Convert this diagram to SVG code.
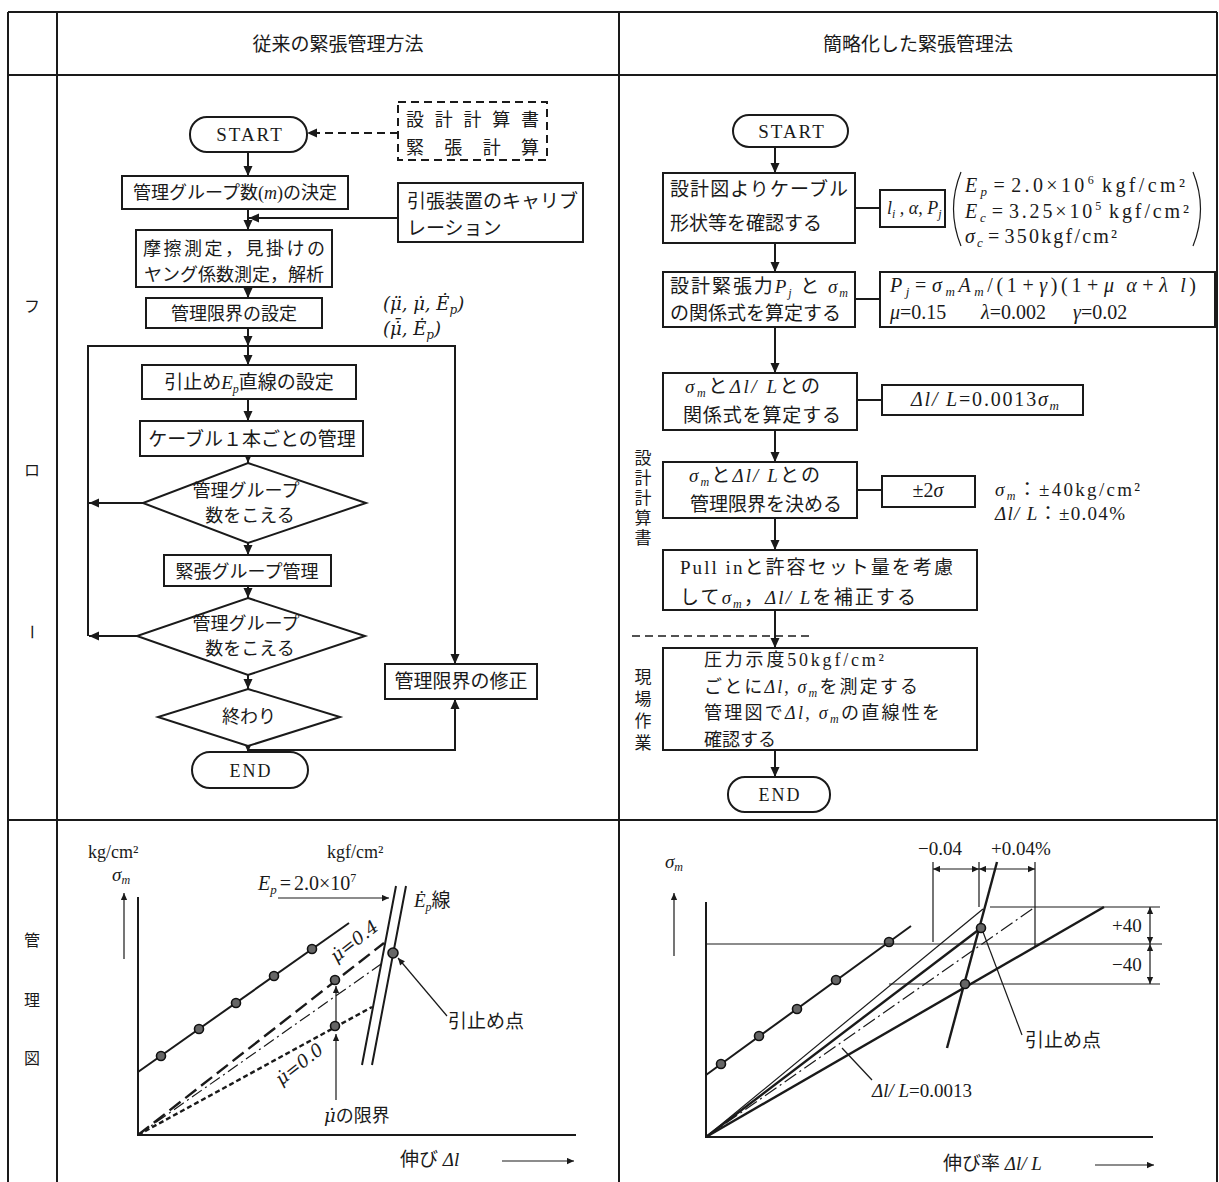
<svg xmlns="http://www.w3.org/2000/svg" width="1219" height="1182" viewBox="0 0 1219 1182">
<defs>
<style>
text{font-family:"Liberation Serif","DejaVu Serif","Noto Sans CJK JP",serif;fill:#1a1a1a}
.dv{font-family:"DejaVu Serif","Liberation Serif","Noto Sans CJK JP",serif}
.f18{font-size:18px}
.f19{font-size:19px}
.f20{font-size:20px}
.f17{font-size:17px}
.f16{font-size:16px}
.c{text-anchor:middle}
.i{font-style:italic}
.ls{letter-spacing:2px}
.b{fill:#fff;stroke:#1a1a1a;stroke-width:2}
.l{fill:none;stroke:#1a1a1a;stroke-width:2}
.th{fill:none;stroke:#1a1a1a;stroke-width:1.2}
.tk{fill:none;stroke:#1a1a1a;stroke-width:2.4}
.dash{stroke-dasharray:8 5}
.pt{fill:#666;stroke:#111;stroke-width:1.6}
</style>
<marker id="a" viewBox="0 0 10 10" refX="10" refY="5" markerWidth="10" markerHeight="10" markerUnits="userSpaceOnUse" orient="auto-start-reverse"><path d="M0,0.5L10,5L0,9.5z" fill="#1a1a1a"/></marker>
<marker id="sm" viewBox="0 0 10 10" refX="10" refY="5" markerWidth="8" markerHeight="7" markerUnits="userSpaceOnUse" orient="auto-start-reverse"><path d="M0,0.5L10,5L0,9.5z" fill="#1a1a1a"/></marker>
</defs>
<rect width="1219" height="1182" fill="#fff"/>

<g id="table" class="l">
<path d="M8,12H1217M8,75H1217M8,820H1217M8,12V1182M57,12V1182M619,12V1182M1217,12V1182"/>
</g>
<g id="headers">
<text class="f19 c" x="338" y="51">従来の緊張管理方法</text>
<text class="f19 c" x="918" y="51">簡略化した緊張管理法</text>
<text class="f16 c" x="32" y="312">フ</text>
<text class="f16 c" x="32" y="476">ロ</text>
<text class="f16 c" transform="rotate(90 32 632)" x="32" y="638">ー</text>
<text class="f16 c" x="32" y="946">管</text>
<text class="f16 c" x="32" y="1006">理</text>
<text class="f16 c" x="32" y="1064">図</text>
</g>

<!-- Left flowchart -->
<g id="connectors-left" class="l">
<path class="dash" d="M398,133H307" marker-end="url(#a)"/>
<path d="M248,152V176" marker-end="url(#a)"/>
<path d="M248,209V230" marker-end="url(#a)"/>
<path d="M398,218H249" marker-end="url(#a)"/>
<path d="M248,287V298" marker-end="url(#a)"/>
<path d="M248,328V346" marker-end="url(#a)"/>
<path d="M248,346V365" marker-end="url(#a)"/>
<path d="M88,636V346H455V664" marker-end="url(#a)"/>
<path d="M248,399V421" marker-end="url(#a)"/>
<path d="M248,456V463" marker-end="url(#a)"/>
<path d="M143,503H89" marker-end="url(#a)"/>
<path d="M248,543V555" marker-end="url(#a)"/>
<path d="M248,586V598" marker-end="url(#a)"/>
<path d="M137,636H89" marker-end="url(#a)"/>
<path d="M248,675V689" marker-end="url(#a)"/>
<path d="M248,746V752" marker-end="url(#a)"/>
<path d="M248,750H455V699" marker-end="url(#a)"/>
</g>
<g id="l-start"><rect class="b" x="190" y="117" width="117" height="35" rx="17"/><text class="f19 c ls" x="250" y="141">START</text></g>
<g id="l-design"><rect class="b dash" x="398" y="102" width="149" height="58"/>
<text class="f18" x="406" y="126" textLength="133" lengthAdjust="spacing">設計計算書</text>
<text class="f18" x="406" y="154" textLength="133" lengthAdjust="spacing">緊張計算</text></g>
<g id="l-group"><rect class="b" x="122" y="176" width="226" height="33"/><text class="f18 c" x="235" y="199">管理グループ数(<tspan class="i">m</tspan>)の決定</text></g>
<g id="l-calib"><rect class="b" x="398" y="183" width="185" height="59"/><text class="f19" x="407" y="208">引張装置のキャリブ</text><text class="f19" x="407" y="235">レーション</text></g>
<g id="l-friction"><rect class="b" x="136" y="230" width="196" height="57"/><text class="f18 c" x="234" y="255" textLength="182" lengthAdjust="spacing">摩擦測定，見掛けの</text><text class="f18 c" x="234" y="281">ヤング係数測定，解析</text></g>
<text class="f18 i dv" x="383" y="310">(μ̈, μ̇, Ė<tspan font-size="12" dy="4">p</tspan><tspan dy="-4">)</tspan></text>
<g id="l-limit"><rect class="b" x="146" y="298" width="176" height="30"/><text class="f18 c" x="234" y="320">管理限界の設定</text></g>
<text class="f18 i dv" x="383" y="335">(μ̇̄, Ė̄<tspan font-size="12" dy="4">p</tspan><tspan dy="-4">)</tspan></text>
<g id="l-ep"><rect class="b" x="142" y="365" width="214" height="34"/><text class="f19 c" x="249" y="389">引止め<tspan class="i">E</tspan><tspan class="i" font-size="12" dy="4">p</tspan><tspan dy="-4">直線の設定</tspan></text></g>
<g id="l-cable"><rect class="b" x="140" y="421" width="223" height="35"/><text class="f19 c" x="252" y="446">ケーブル１本ごとの管理</text></g>
<g id="l-dec1"><polygon class="b" points="248,463 366,503 248,543 143,503"/><text class="f18 c" x="246" y="497">管理グループ</text><text class="f18 c" x="250" y="522">数をこえる</text></g>
<g id="l-tgroup"><rect class="b" x="164" y="555" width="167" height="31"/><text class="f18 c" x="247" y="578">緊張グループ管理</text></g>
<g id="l-dec2"><polygon class="b" points="248,598 365,636 248,675 137,636"/><text class="f18 c" x="246" y="630">管理グループ</text><text class="f18 c" x="250" y="655">数をこえる</text></g>
<g id="l-dec3"><polygon class="b" points="248,689 340,717 248,746 158,717"/><text class="f18 c" x="249" y="723">終わり</text></g>
<g id="l-end"><rect class="b" x="192" y="752" width="116" height="36" rx="18"/><text class="f18 c ls" x="251" y="777">END</text></g>
<g id="l-revise"><rect class="b" x="385" y="664" width="152" height="35"/><text class="f19 c" x="461" y="688">管理限界の修正</text></g>

<!-- Right flowchart -->
<g id="connectors-right" class="l">
<path d="M775,147V173" marker-end="url(#a)"/>
<path d="M775,243V272" marker-end="url(#a)"/>
<path d="M775,327V373" marker-end="url(#a)"/>
<path d="M775,430V462" marker-end="url(#a)"/>
<path d="M775,518V550" marker-end="url(#a)"/>
<path d="M775,610V648" marker-end="url(#a)"/>
<path d="M775,750V777" marker-end="url(#a)"/>
<path d="M855,208H880M855,299H880M857,400H882M857,490H882"/>
<path class="dash" d="M632,636H810" stroke-width="1.6"/>
</g>
<g id="r-start"><rect class="b" x="733" y="115" width="115" height="32" rx="16"/><text class="f19 c ls" x="792" y="138">START</text></g>
<g id="r-check"><rect class="b" x="663" y="173" width="192" height="70"/><text class="f19" x="670" y="196" textLength="178" lengthAdjust="spacing">設計図よりケーブル</text><text class="f19" x="670" y="230">形状等を確認する</text></g>
<g id="r-li"><rect class="b" x="880" y="190" width="65" height="37"/><text class="f18 i" x="887" y="214">l<tspan font-size="12" dy="4">i</tspan><tspan dy="-4"> , α, P</tspan><tspan font-size="12" dy="4">j</tspan></text></g>
<g id="r-const">
<path class="th" d="M961,172Q946,209 961,246M1193,172Q1208,209 1193,246" stroke-width="1.6"/>
<text class="f20" x="965" y="192" textLength="220" lengthAdjust="spacing"><tspan class="i">E</tspan><tspan class="i" font-size="13" dy="4">p</tspan><tspan dy="-4" dx="3">=</tspan><tspan dx="3">2.0×10</tspan><tspan font-size="12" dy="-8">6</tspan><tspan dy="8" dx="5">kgf/cm²</tspan></text>
<text class="f20" x="965" y="218" textLength="224" lengthAdjust="spacing"><tspan class="i">E</tspan><tspan class="i" font-size="13" dy="4">c</tspan><tspan dy="-4" dx="3">=</tspan><tspan dx="3">3.25×10</tspan><tspan font-size="12" dy="-8">5</tspan><tspan dy="8" dx="5">kgf/cm²</tspan></text>
<text class="f20" x="965" y="243" textLength="152" lengthAdjust="spacing"><tspan class="i">σ</tspan><tspan class="i" font-size="13" dy="4">c</tspan><tspan dy="-4" dx="3">=</tspan><tspan dx="3">350kgf/cm²</tspan></text>
</g>
<g id="r-force"><rect class="b" x="663" y="272" width="192" height="55"/><text class="f19" x="670" y="293" textLength="178" lengthAdjust="spacing">設計緊張力<tspan class="i">P</tspan><tspan class="i" font-size="12" dy="4">j</tspan><tspan dy="-4"> と </tspan><tspan class="i">σ</tspan><tspan class="i" font-size="12" dy="4">m</tspan></text><text class="f19" x="670" y="320">の関係式を算定する</text></g>
<g id="r-formula"><rect class="b" x="880" y="272" width="335" height="55"/>
<text class="f20" x="890" y="292" textLength="306" lengthAdjust="spacing"><tspan class="i">P</tspan><tspan class="i" font-size="13" dy="4">j</tspan><tspan dy="-4" dx="2">=</tspan><tspan class="i" dx="2">σ</tspan><tspan class="i" font-size="13" dy="4">m</tspan><tspan class="i" dy="-4">A</tspan><tspan class="i" font-size="13" dy="4">m</tspan><tspan dy="-4">/(1</tspan><tspan dx="2">+</tspan><tspan class="i" dx="2">γ</tspan><tspan>)(1</tspan><tspan dx="2">+</tspan><tspan class="i" dx="2">μ α</tspan><tspan dx="2">+</tspan><tspan class="i" dx="2">λ l</tspan><tspan>)</tspan></text>
<text class="f20" x="890" y="319"><tspan class="i">μ</tspan>=0.15</text>
<text class="f20" x="981" y="319"><tspan class="i">λ</tspan>=0.002</text>
<text class="f20" x="1073" y="319"><tspan class="i">γ</tspan>=0.02</text>
</g>
<g id="r-rel"><rect class="b" x="663" y="373" width="194" height="57"/><text class="f19" x="685" y="393" textLength="135" lengthAdjust="spacing"><tspan class="i">σ</tspan><tspan class="i" font-size="12" dy="4">m</tspan><tspan dy="-4">と</tspan><tspan class="i">Δl/ L</tspan><tspan>との</tspan></text><text class="f19" x="683" y="422" textLength="158" lengthAdjust="spacing">関係式を算定する</text></g>
<g id="r-ratio"><rect class="b" x="882" y="385" width="201" height="30"/><text class="f20" x="911" y="406" textLength="148" lengthAdjust="spacing"><tspan class="i">Δl/ L</tspan>=0.0013<tspan class="i">σ</tspan><tspan class="i" font-size="13" dy="4">m</tspan></text></g>
<g id="r-lim"><rect class="b" x="663" y="462" width="194" height="56"/><text class="f19" x="689" y="482" textLength="131" lengthAdjust="spacing"><tspan class="i">σ</tspan><tspan class="i" font-size="12" dy="4">m</tspan><tspan dy="-4">と</tspan><tspan class="i">Δl/ L</tspan><tspan>との</tspan></text><text class="f19" x="690" y="511" textLength="152" lengthAdjust="spacing">管理限界を決める</text></g>
<g id="r-2s"><rect class="b" x="882" y="476" width="93" height="31"/><text class="f20 c" x="928" y="497">±2<tspan class="i">σ</tspan></text></g>
<text class="f19" x="995" y="496" textLength="145" lengthAdjust="spacing"><tspan class="i">σ</tspan><tspan class="i" font-size="12" dy="4">m</tspan><tspan dy="-4">：±40kg/cm²</tspan></text>
<text class="f19" x="995" y="520" textLength="130" lengthAdjust="spacing"><tspan class="i">Δl/ L</tspan>：±0.04%</text>
<g id="r-pull"><rect class="b" x="663" y="550" width="314" height="60"/><text class="f19" x="680" y="574" textLength="273" lengthAdjust="spacing">Pull  inと許容セット量を考慮</text><text class="f19" x="680" y="604" textLength="236" lengthAdjust="spacing">して<tspan class="i">σ</tspan><tspan class="i" font-size="12" dy="4">m</tspan><tspan dy="-4">，</tspan><tspan class="i">Δl/ L</tspan><tspan>を補正する</tspan></text></g>
<g id="r-site"><rect class="b" x="663" y="648" width="314" height="102"/>
<text class="f18" x="704" y="666" textLength="180" lengthAdjust="spacing">圧力示度50kgf/cm²</text>
<text class="f18" x="704" y="693" textLength="214" lengthAdjust="spacing">ごとに<tspan class="i">Δl</tspan>, <tspan class="i">σ</tspan><tspan class="i" font-size="12" dy="4">m</tspan><tspan dy="-4">を測定する</tspan></text>
<text class="f18" x="704" y="719" textLength="236" lengthAdjust="spacing">管理図で<tspan class="i">Δl</tspan>, <tspan class="i">σ</tspan><tspan class="i" font-size="12" dy="4">m</tspan><tspan dy="-4">の直線性を</tspan></text>
<text class="f18" x="704" y="746">確認する</text></g>
<g id="r-end"><rect class="b" x="728" y="777" width="102" height="35" rx="17"/><text class="f18 c ls" x="780" y="801">END</text></g>
<g id="r-labels">
<text class="f17 c" x="643" y="464">設</text><text class="f17 c" x="643" y="484">計</text><text class="f17 c" x="643" y="504">計</text><text class="f17 c" x="643" y="524">算</text><text class="f17 c" x="643" y="544">書</text>
<text class="f17 c" x="643" y="683">現</text><text class="f17 c" x="643" y="705">場</text><text class="f17 c" x="643" y="727">作</text><text class="f17 c" x="643" y="749">業</text>
</g>

<!-- Left chart -->
<g id="chart-left">
<text class="f18" x="88" y="858">kg/cm²</text>
<text class="f18" x="327" y="858">kgf/cm²</text>
<text class="f19 i" x="112" y="881">σ<tspan font-size="12" dy="3">m</tspan></text>
<path class="th" d="M124,959V893" marker-end="url(#sm)"/>
<path class="l" d="M138,897V1135H576"/>
<text class="f20" x="258" y="890"><tspan class="i">E</tspan><tspan class="i" font-size="13" dy="4">p</tspan><tspan dy="-4" dx="3">=</tspan><tspan dx="3">2.0×10</tspan><tspan font-size="12" dy="-8">7</tspan></text>
<path class="th" d="M278,898H389" marker-end="url(#sm)"/>
<path class="l" d="M362,1065L396,886M372,1065L406,886"/>
<text class="f19" x="414" y="907"><tspan class="i">Ė</tspan><tspan class="i" font-size="12" dy="4">p</tspan><tspan dy="-4">線</tspan></text>
<path class="l" d="M138,1072L349,923"/>
<circle class="pt" cx="161" cy="1056" r="4.5"/><circle class="pt" cx="199" cy="1029" r="4.5"/><circle class="pt" cx="236" cy="1003" r="4.5"/><circle class="pt" cx="274" cy="976" r="4.5"/><circle class="pt" cx="312" cy="949" r="4.5"/>
<path class="tk" d="M138,1135L384,943" stroke-dasharray="14 6"/>
<path class="th" d="M138,1135L384,962" stroke-dasharray="12 4 2 4"/>
<path class="tk" d="M138,1135L372,1007" stroke-dasharray="5 3" stroke-width="3"/>
<path class="th" d="M336,1100V1034" marker-end="url(#sm)"/>
<path class="th" d="M336,1030V986" marker-end="url(#sm)"/>
<circle class="pt" cx="335" cy="980" r="4.5"/>
<circle class="pt" cx="335" cy="1026" r="4.5"/>
<circle class="pt" cx="393" cy="953" r="5"/>
<text class="f18 c i dv" transform="translate(358,946) rotate(-38)">μ̇=0.4</text>
<text class="f18 c i dv" transform="translate(303,1069) rotate(-38)">μ̇=0.0</text>
<text class="f18" x="324" y="1122"><tspan class="i dv">μ̇</tspan>の限界</text>
<path class="th" d="M447,1016L398,958" marker-end="url(#sm)"/>
<text class="f19" x="448" y="1028">引止め点</text>
<text class="f19" x="400" y="1166">伸び <tspan class="i">Δl</tspan></text>
<path class="th" d="M502,1161H574" marker-end="url(#sm)"/>
</g>

<!-- Right chart -->
<g id="chart-right">
<text class="f19 i c" x="674" y="868">σ<tspan font-size="12" dy="3">m</tspan></text>
<path class="th" d="M674,956V893" marker-end="url(#sm)"/>
<path class="l" d="M706,902V1137H1153"/>
<path class="l" d="M706,1075L911,926"/>
<circle class="pt" cx="721" cy="1064" r="4.5"/><circle class="pt" cx="759" cy="1036" r="4.5"/><circle class="pt" cx="797" cy="1009" r="4.5"/><circle class="pt" cx="836" cy="980" r="4.5"/><circle class="pt" cx="889" cy="942" r="4.5"/>
<path class="th" d="M707,944H1162M990,907H1160M889,984H1160"/>
<path class="th" d="M706,1137L983,909"/>
<path class="tk" d="M947,1048L997,862"/>
<path class="tk" d="M706,1137L981,928"/>
<path class="th" d="M706,1137L1035,907" stroke-dasharray="14 4 2 4"/>
<path class="tk" d="M706,1137L1104,907"/>
<circle class="pt" cx="981" cy="928" r="4.5"/>
<circle class="pt" cx="965" cy="984" r="4.5"/>
<path class="th" d="M933,862V942M979,862V907M1035,862V946"/>
<path class="th" d="M933,869H979" marker-start="url(#sm)" marker-end="url(#sm)"/>
<path class="th" d="M979,869H1035" marker-start="url(#sm)" marker-end="url(#sm)"/>
<text class="f19" x="918" y="855">−0.04</text>
<text class="f19" x="991" y="855">+0.04%</text>
<path class="th" d="M1150,907V944" marker-start="url(#sm)" marker-end="url(#sm)"/>
<path class="th" d="M1150,944V984" marker-start="url(#sm)" marker-end="url(#sm)"/>
<text class="f19" x="1112" y="932">+40</text>
<text class="f19" x="1112" y="971">−40</text>
<path class="th" d="M1022,1035L983,932"/>
<text class="f19" x="1025" y="1047">引止め点</text>
<path class="th" d="M872,1080L842,1048"/>
<text class="f19" x="872" y="1097"><tspan class="i">Δl/ L</tspan>=0.0013</text>
<text class="f19" x="943" y="1170">伸び率 <tspan class="i">Δl/ L</tspan></text>
<path class="th" d="M1095,1165H1154" marker-end="url(#sm)"/>
</g>
</svg>
